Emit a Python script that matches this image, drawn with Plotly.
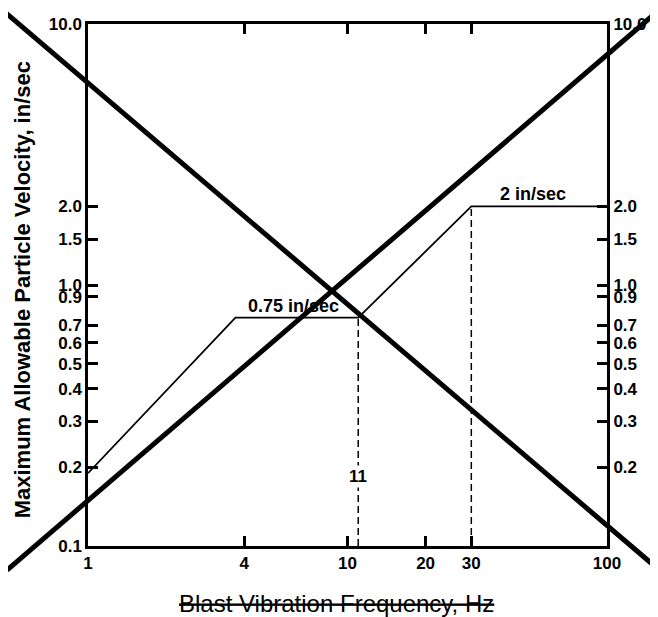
import math
import plotly.graph_objects as go

# ---- data ----
freq_hz = [1, 3.7, 11, 30, 100]
velocity = [0.19, 0.75, 0.75, 2.0, 2.0]

drop_11_x = [11, 11]
drop_11_y = [0.1, 0.75]
drop_30_x = [30, 30]
drop_30_y = [0.1, 2.0]

x_tickvals = [1, 4, 10, 20, 30, 100]
x_ticktext = ["1", "4", "10", "20", "30", "100"]
y_tickvals = [0.1, 0.2, 0.3, 0.4, 0.5, 0.6, 0.7, 0.9, 1.0, 1.5, 2.0, 10.0]
y_ticktext = ["0.1", "0.2", "0.3", "0.4", "0.5", "0.6", "0.7", "0.9", "1.0", "1.5", "2.0", "10.0"]
y2_tickvals = y_tickvals[1:]
y2_ticktext = y_ticktext[1:]

# cross-out strokes (paper fractions of the plot area)
cross_a = [(-0.158, 1.021), (1.096, -0.042)]
cross_b = [(-0.156, -0.046), (1.096, 1.023)]

labels = [
    ("0.75 in/sec", 6.2, 0.75),
    ("2 in/sec", 52, 2.0),
]
label_11 = ("11", 11, 0.185)

FONT = "Arial, Liberation Sans, sans-serif"

fig = go.Figure()
fig.add_trace(go.Scatter(x=freq_hz, y=velocity, mode="lines",
                         line=dict(color="black", width=1.8), showlegend=False, hoverinfo="skip"))
fig.add_trace(go.Scatter(x=drop_11_x, y=drop_11_y, mode="lines",
                         line=dict(color="black", width=1.5, dash="7px,4px"),
                         showlegend=False, hoverinfo="skip"))
fig.add_trace(go.Scatter(x=drop_30_x, y=drop_30_y, mode="lines", yaxis="y2",
                         line=dict(color="black", width=1.5, dash="7px,4px"),
                         showlegend=False, hoverinfo="skip"))

for (x0, y0), (x1, y1) in [cross_a, cross_b]:
    fig.add_shape(type="line", xref="paper", yref="paper", x0=x0, y0=y0, x1=x1, y1=y1,
                  line=dict(color="black", width=5), layer="above")

for text, x, y in labels:
    fig.add_annotation(x=math.log10(x), y=math.log10(y), text=f"<b>{text}</b>", showarrow=False,
                       yanchor="bottom", xanchor="center", yshift=0,
                       font=dict(family=FONT, size=18, color="black"))
fig.add_annotation(x=math.log10(label_11[1]), y=math.log10(label_11[2]), text=f"<b>{label_11[0]}</b>",
                   showarrow=False, bgcolor="white", font=dict(family=FONT, size=17, color="black"))

fig.add_annotation(xref="paper", yref="paper", x=0.478, y=-0.11, xanchor="center", yanchor="middle",
                   text="<s>Blast Vibration Frequency, Hz</s>", showarrow=False,
                   font=dict(family=FONT, size=24, color="black"))
fig.add_annotation(xref="paper", yref="paper", x=-0.127, y=0.49, xanchor="center", yanchor="middle",
                   textangle=-90,
                   text="<b>Maximum Allowable Particle Velocity, in/sec</b>", showarrow=False,
                   font=dict(family=FONT, size=22, color="black"))

fig.update_layout(
    width=650, height=609,
    margin=dict(l=80, r=51, t=16, b=71),
    paper_bgcolor="white", plot_bgcolor="white",
    showlegend=False,
    xaxis=dict(type="log", range=[0, 2], tickvals=x_tickvals, ticktext=x_ticktext,
               ticks="inside", ticklen=10, tickwidth=2.5, tickcolor="black",
               showline=True, linewidth=2.5, linecolor="black", mirror="ticks",
               showgrid=False, zeroline=False,
               tickfont=dict(family=FONT, size=17, color="black", weight="bold")),
    yaxis=dict(type="log", range=[-1, 1], tickvals=y_tickvals, ticktext=y_ticktext,
               ticks="inside", ticklen=10, tickwidth=2.5, tickcolor="black",
               showline=True, linewidth=2.5, linecolor="black",
               showgrid=False, zeroline=False, automargin=False,
               tickfont=dict(family=FONT, size=17, color="black", weight="bold")),
    yaxis2=dict(type="log", range=[-1, 1], overlaying="y", side="right",
                tickvals=y2_tickvals, ticktext=y2_ticktext,
                ticks="inside", ticklen=10, tickwidth=2.5, tickcolor="black",
                showline=True, linewidth=3, linecolor="black",
                showgrid=False, zeroline=False, automargin=False,
                tickfont=dict(family=FONT, size=17, color="black", weight="bold")),
)

fig.write_html("out.html")
